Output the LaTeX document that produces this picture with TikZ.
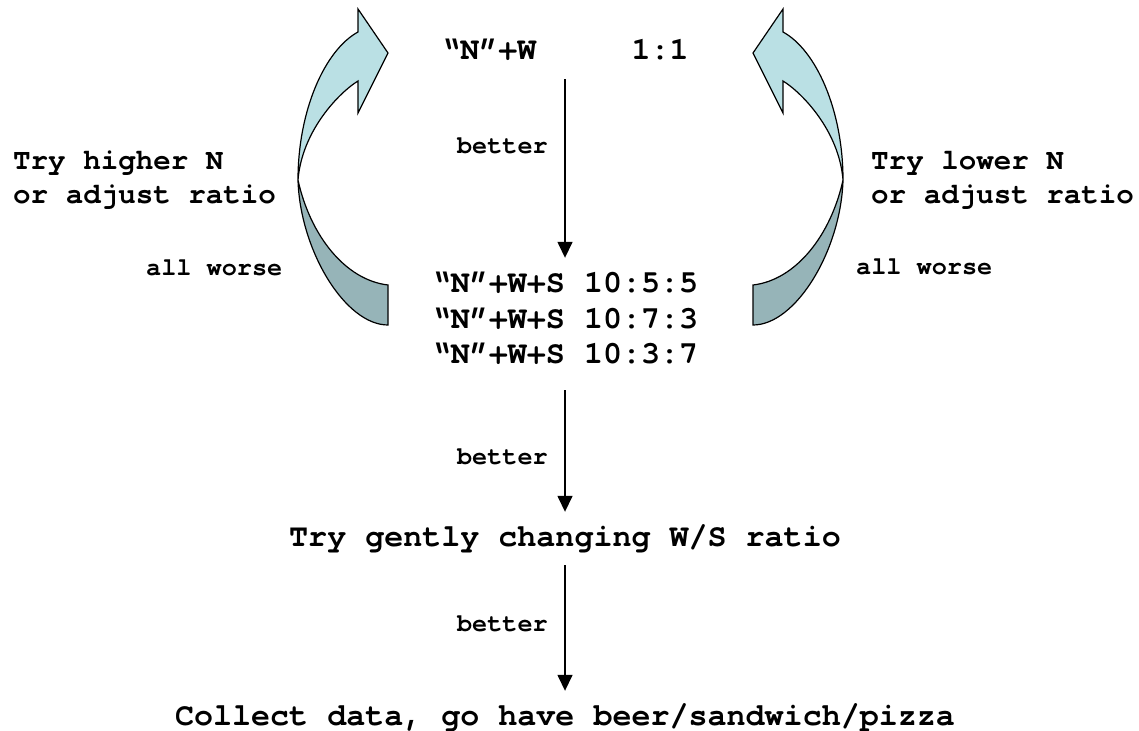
\documentclass[tikz,border=0pt]{standalone}
\usepackage{fontspec}
\newfontfamily\cour{TeX Gyre Cursor}
\usetikzlibrary{arrows.meta}

\definecolor{frontcyan}{RGB}{186,224,228}
\definecolor{backcyan}{RGB}{150,180,184}

\newcommand{\twistarrow}{%
	\filldraw[fill=backcyan, line width=1.2pt] (298,180) .. controls (300,250) and (345,325) .. (388,325) -- (388,285) .. controls (345,280) and (310,235) .. (298,180) -- cycle;
	\filldraw[fill=frontcyan, line width=1.2pt, line join=miter] (298,180) .. controls (298,110) and (325,50) .. (358,32) -- (358,9) -- (388,53) -- (358,113) -- (358,81) .. controls (340,92) and (302,130) .. (298,180) -- cycle;
}

\tikzset{
	txt/.style={font=\cour\bfseries\fontsize{31.7}{35}\selectfont, inner sep=0pt, text height=18pt, text depth=0pt},
	side/.style={font=\cour\bfseries\fontsize{29.2}{34}\selectfont, inner sep=0pt, align=left, anchor=west},
	lbl/.style={font=\cour\bfseries\fontsize{25.2}{30}\selectfont, inner sep=0pt, text height=14.4pt, text depth=0pt},
	flow/.style={-{Triangle[width=15pt,length=16pt]}, line width=1.5pt, shorten <=19pt, shorten >=16pt},
}

\begin{document}
\begin{tikzpicture}[x=1pt,y=-1pt]
			\useasboundingbox (0,0) rectangle (1139,730);
			
			\twistarrow
			\begin{scope}[xshift=1141pt, xscale=-1]
				\twistarrow
			\end{scope}
			
			\node[txt] (start)   at (565,51)  {“N”+W~~~~~1:1};
			
			\node[txt] (ws1)     at (565,283) {“N”+W+S 10:5:5};
			\node[txt] (ws2)     at (565,319) {“N”+W+S 10:7:3};
			\node[txt] (ws3)     at (565,354) {“N”+W+S 10:3:7};
			
			\node[txt] (gently)  at (565,537) {Try gently changing W/S ratio};
			\node[txt] (collect) at (565,716) {Collect data, go have beer/sandwich/pizza};
			
			\node[side] (higher) at (13,180)  {Try higher N\\or adjust ratio};
			\node[side] (lower)  at (871,180) {Try lower N\\or adjust ratio};
			
			\node[lbl, anchor=west] (worseL) at (146,268) {all worse};
			\node[lbl, anchor=west] (worseR) at (856,267) {all worse};
			
			\node[lbl, anchor=east] (b1) at (548,146) {better};
			\node[lbl, anchor=east] (b2) at (548,457) {better};
			\node[lbl, anchor=east] (b3) at (548,624) {better};
			
			\draw[flow] (start) -- (ws1);
			\draw[flow, shorten <=27pt] (ws3) -- (gently);
			\draw[flow] (gently) -- (collect);
			%\draw[flow] (ws2) -- (lower);
\end{tikzpicture}
\end{document}
